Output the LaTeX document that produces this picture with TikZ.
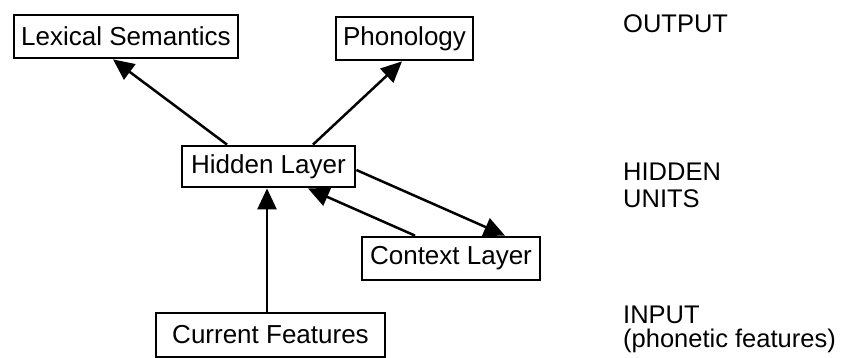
\documentclass[tikz,border=0pt]{standalone}
\usepackage{fontspec}
\setmainfont{Liberation Sans}
\usetikzlibrary{arrows.meta,calc}
\begin{document}
\begin{tikzpicture}[x=1pt,y=-1pt,
  box/.style={draw,line width=2.8pt,inner sep=0pt,font=\fontsize{26}{30}\selectfont},
  arr/.style={line width=2.5pt,-{Triangle[length=21pt,width=19pt]}},
  lbl/.style={anchor=base west,inner sep=0pt,font=\fontsize{25.5}{30}\selectfont}]
\useasboundingbox (0,0) rectangle (850,358);
\node[box,minimum width=224pt,minimum height=43pt] (lex) at (126,36.5) {Lexical Semantics};
\node[box,minimum width=137pt,minimum height=43pt] (pho) at (404.5,38.5) {Phonology};
\node[box,minimum width=173pt,minimum height=41pt] (hid) at (268.5,166.5) {Hidden Layer};
\node[box,minimum width=178pt,minimum height=43pt] (ctx) at (451,258.5) {Context Layer};
\node[box,minimum width=229pt,minimum height=44pt] (cur) at (270.5,335) {Current Features};
\draw[arr] ([xshift=-41.5pt]hid.north) -- ([xshift=-13pt]lex.south);
\draw[arr] ([xshift=44.5pt]hid.north) -- ([xshift=-2.5pt]pho.south);
\draw[arr] ([xshift=-3.5pt]cur.north) -- ([xshift=-1.5pt]hid.south);
\draw[arr] ([xshift=-36pt]ctx.north) -- ([xshift=39.5pt]hid.south);
\draw[arr] ([yshift=-3.5pt]hid.east) -- ([xshift=54pt]ctx.north);
\node[lbl] (out) at (623,33) {OUTPUT};
\node[lbl] (hu1) at (623,180) {HIDDEN};
\node[lbl] (hu2) at (623,207) {UNITS};
\node[lbl] (in1) at (623,323) {INPUT};
\node[lbl] (in2) at (623,347.5) {(phonetic features)};
\end{tikzpicture}
\end{document}
